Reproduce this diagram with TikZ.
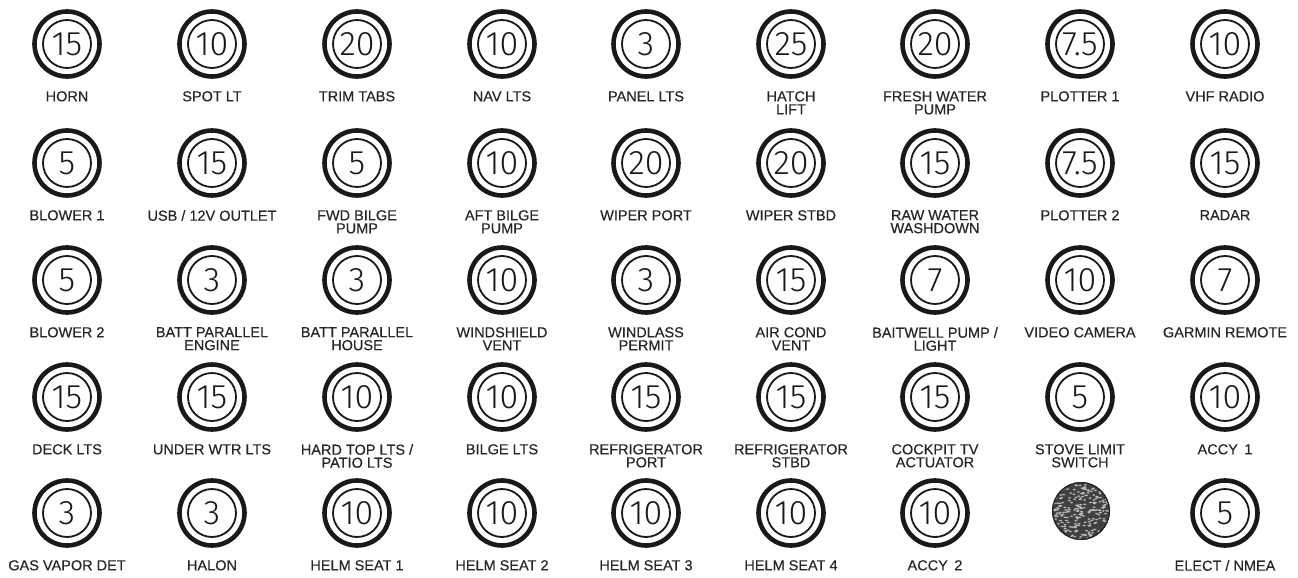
\documentclass[tikz,border=0pt]{standalone}
\usepackage{fontspec}
\setmainfont{Liberation Sans}
\newfontfamily\lf{Liberation Sans}[FakeBold=0.35]
\newfontfamily\dg{Fira Sans Light}
\tikzset{
  brk/.style={circle, draw=black!90, line width=4.6pt, minimum size=65pt, inner sep=0pt,
    font=\dg\fontsize{34}{34}\selectfont, text=black!90,
    path picture={\draw[black!90, line width=1.8pt] (path picture bounding box.center) circle (24pt);}},
  lbl/.style={anchor=north, inner sep=0pt, align=center, text=black!85,
    font=\lf\fontsize{14.5}{13}\selectfont},
  blank/.style={circle, minimum size=58pt, inner sep=0pt, fill=black!75,
    path picture={
      \pgfmathsetseed{11}
      \foreach \k in {1,...,240}{
        \pgfmathsetmacro\ra{sqrt(rnd)*30}\pgfmathsetmacro\an{rnd*360}\pgfmathsetmacro\rt{rnd*180}
        \fill[black!25, rotate around={\rt:(path picture bounding box.center)}]
          ([shift={(\an:\ra pt)}]path picture bounding box.center) ellipse (1.7pt and 0.8pt);
      }
      \draw[black!85, line width=1.5pt] (path picture bounding box.center) circle (28.5pt);
    }}
}
\newcommand\cbk[5]{%
  \node[brk] (#1) at (#2,#3) {#4};
  \node[lbl] (#1l) at ([yshift=-47pt]#1.center) {#5};
}
\begin{document}
\begin{tikzpicture}[x=1pt,y=-1pt]
\useasboundingbox (0,0) rectangle (1298,578);
% row 1
\cbk{a1}{67}{44}{15}{HORN}
\cbk{a2}{212}{44}{10}{SPOT LT}
\cbk{a3}{357}{44}{20}{TRIM TABS}
\cbk{a4}{502}{44}{10}{NAV LTS}
\cbk{a5}{646}{44}{3}{PANEL LTS}
\cbk{a6}{791}{44}{25}{HATCH\\LIFT}
\cbk{a7}{935}{44}{20}{FRESH WATER\\PUMP}
\cbk{a8}{1080}{44}{7.5}{PLOTTER 1}
\cbk{a9}{1225}{44}{10}{VHF RADIO}
% row 2
\cbk{b1}{67}{163}{5}{BLOWER 1}
\cbk{b2}{212}{163}{15}{USB / 12V OUTLET}
\cbk{b3}{357}{163}{5}{FWD BILGE\\PUMP}
\cbk{b4}{502}{163}{10}{AFT BILGE\\PUMP}
\cbk{b5}{646}{163}{20}{WIPER PORT}
\cbk{b6}{791}{163}{20}{WIPER STBD}
\cbk{b7}{935}{163}{15}{RAW WATER\\WASHDOWN}
\cbk{b8}{1080}{163}{7.5}{PLOTTER 2}
\cbk{b9}{1225}{163}{15}{RADAR}
% row 3
\cbk{c1}{67}{280}{5}{BLOWER 2}
\cbk{c2}{212}{280}{3}{BATT PARALLEL\\ENGINE}
\cbk{c3}{357}{280}{3}{BATT PARALLEL\\HOUSE}
\cbk{c4}{502}{280}{10}{WINDSHIELD\\VENT}
\cbk{c5}{646}{280}{3}{WINDLASS\\PERMIT}
\cbk{c6}{791}{280}{15}{AIR COND\\VENT}
\cbk{c7}{935}{280}{7}{BAITWELL PUMP /\\LIGHT}
\cbk{c8}{1080}{280}{10}{VIDEO CAMERA}
\cbk{c9}{1225}{280}{7}{GARMIN REMOTE}
% row 4
\cbk{d1}{67}{397}{15}{DECK LTS}
\cbk{d2}{212}{397}{15}{UNDER WTR LTS}
\cbk{d3}{357}{397}{10}{HARD TOP LTS /\\PATIO LTS}
\cbk{d4}{502}{397}{10}{BILGE LTS}
\cbk{d5}{646}{397}{15}{REFRIGERATOR\\PORT}
\cbk{d6}{791}{397}{15}{REFRIGERATOR\\STBD}
\cbk{d7}{935}{397}{15}{COCKPIT TV\\ACTUATOR}
\cbk{d8}{1080}{397}{5}{STOVE LIMIT\\SWITCH}
\cbk{d9}{1225}{397}{10}{ACCY\hspace{0.45em}1}
% row 5
\cbk{e1}{67}{513}{3}{GAS VAPOR DET}
\cbk{e2}{212}{513}{3}{HALON}
\cbk{e3}{357}{513}{10}{HELM SEAT 1}
\cbk{e4}{502}{513}{10}{HELM SEAT 2}
\cbk{e5}{646}{513}{10}{HELM SEAT 3}
\cbk{e6}{791}{513}{10}{HELM SEAT 4}
\cbk{e7}{935}{513}{10}{ACCY\hspace{0.45em}2}
\node[blank] (e8) at (1081,511) {};
\cbk{e9}{1225}{513}{5}{ELECT / NMEA}
\end{tikzpicture}
\end{document}
